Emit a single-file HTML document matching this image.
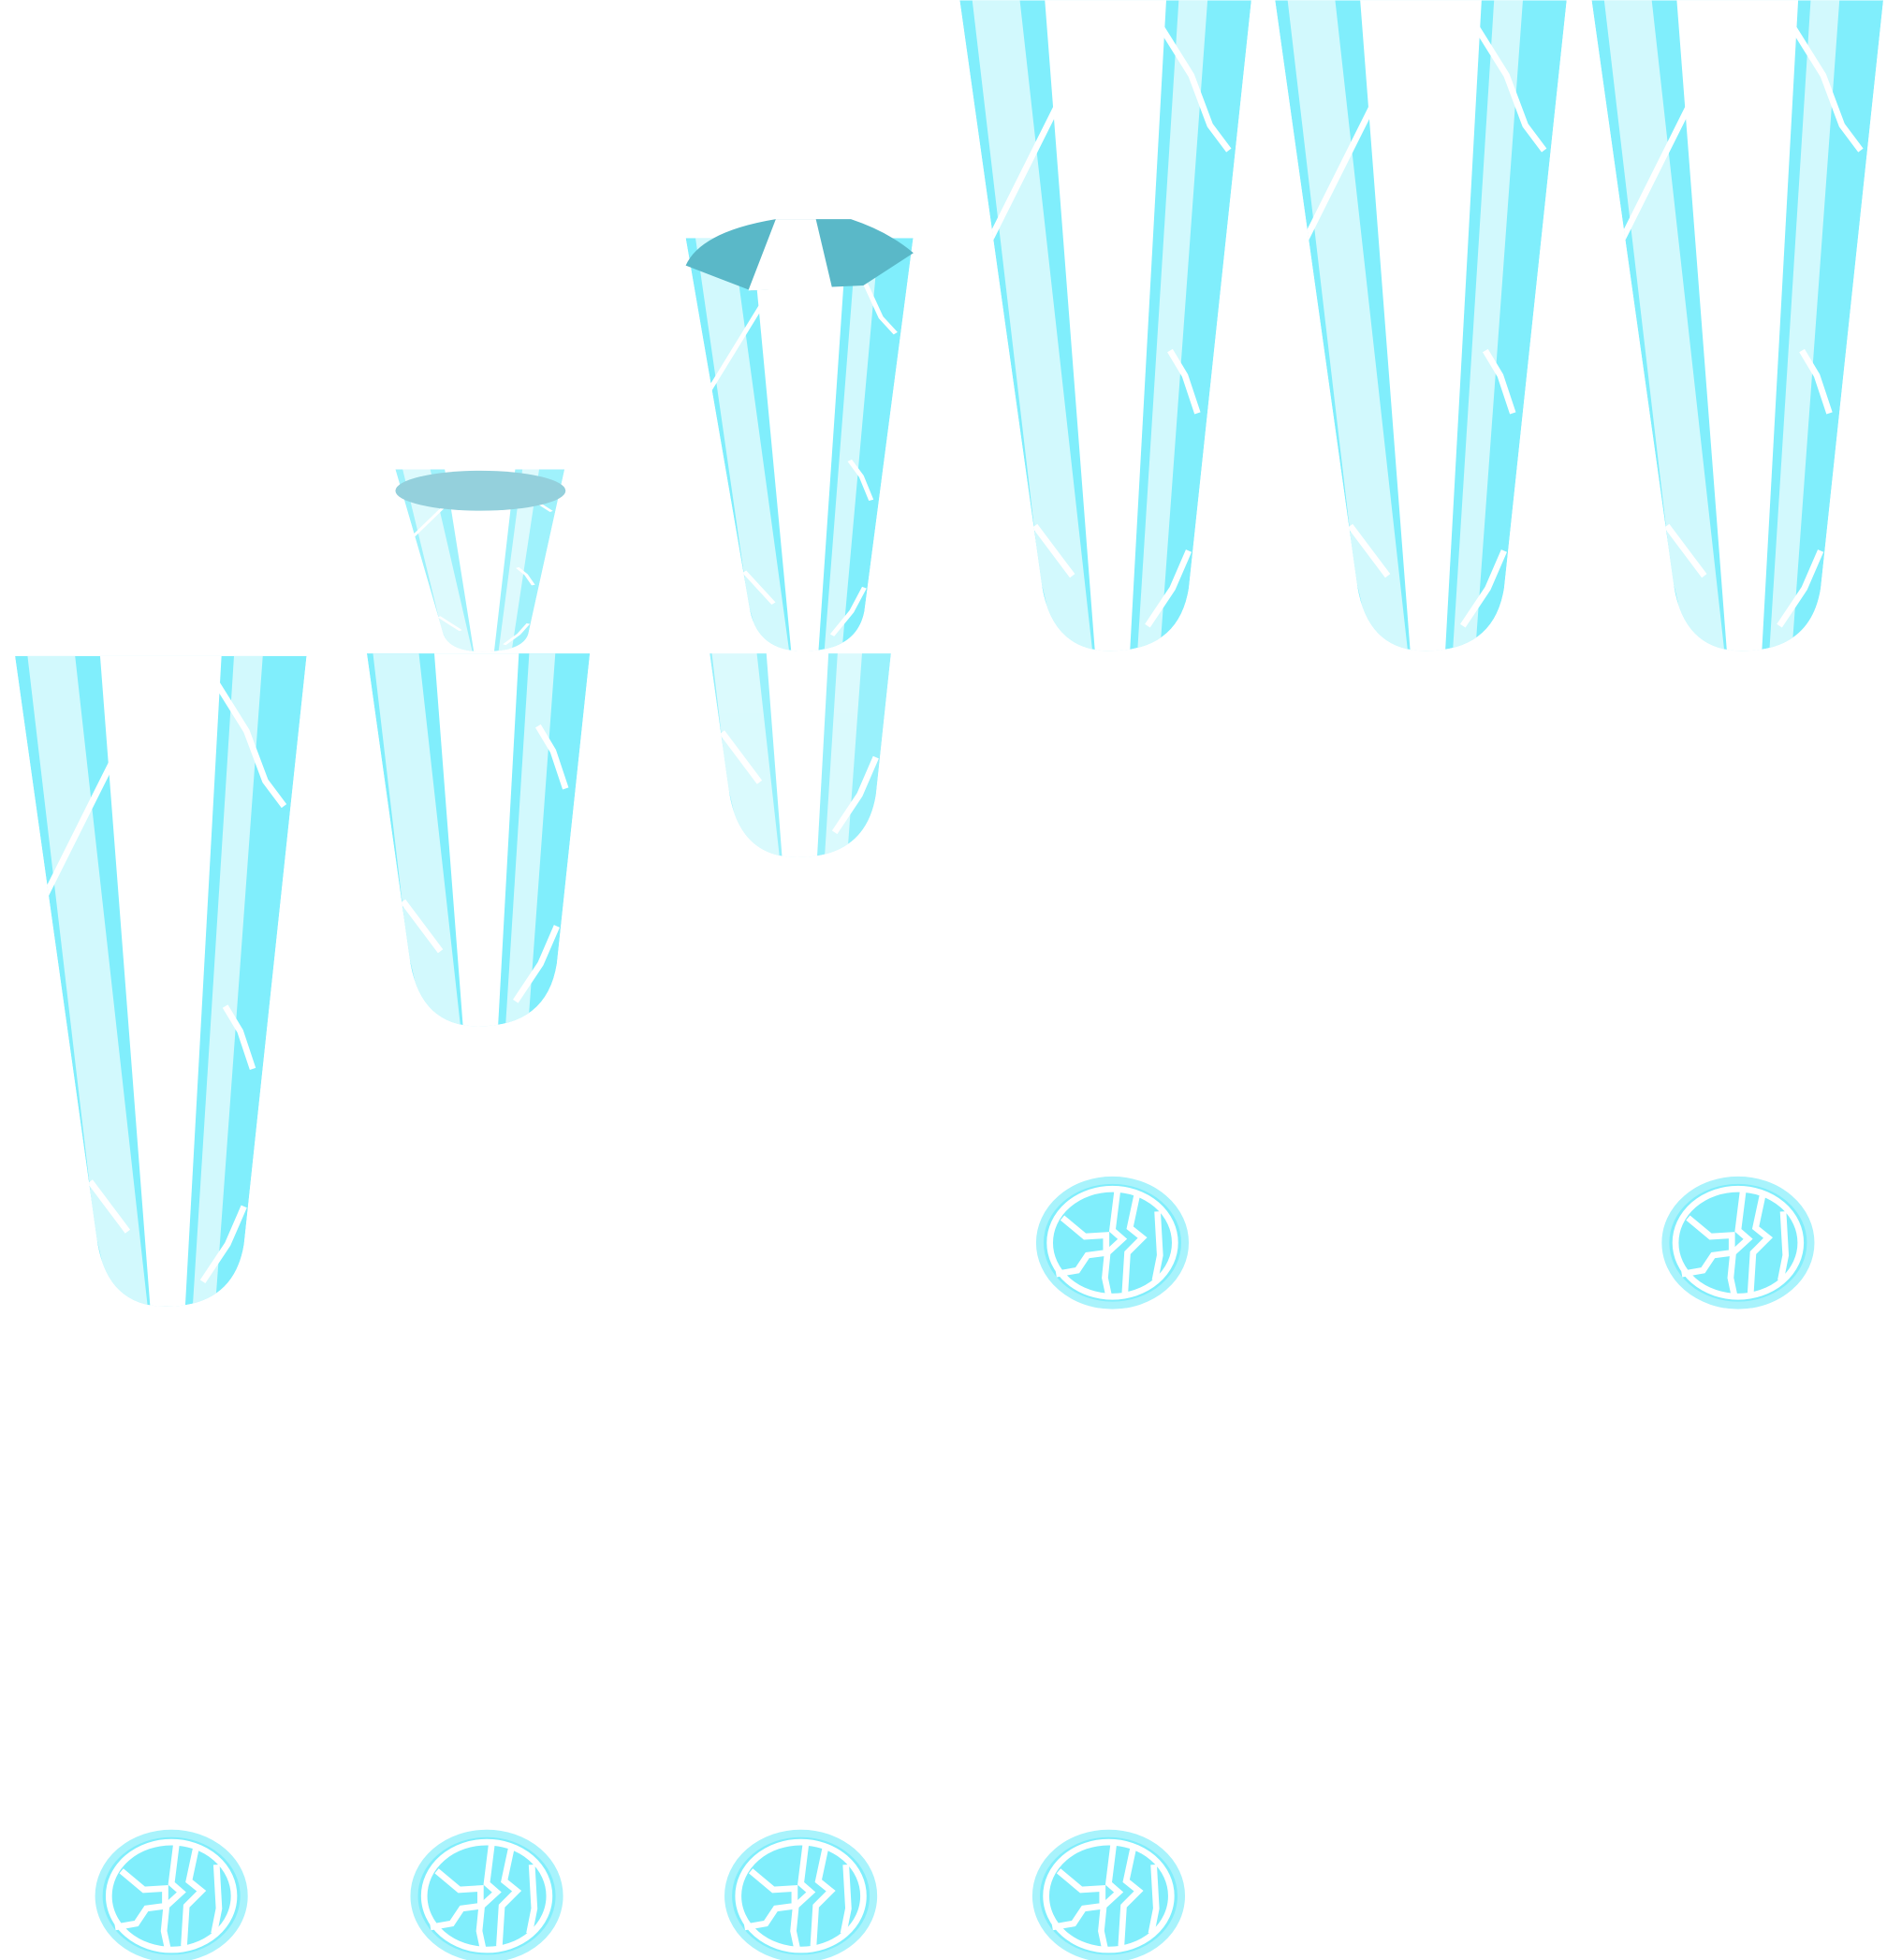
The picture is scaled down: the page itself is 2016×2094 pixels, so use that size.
<!DOCTYPE html>
<html><head><meta charset="utf-8"><style>html,body{margin:0;padding:0;background:#fff}svg{display:block}</style></head>
<body>
<svg width="2016" height="2094" viewBox="0 0 1508 1566" xmlns="http://www.w3.org/2000/svg">
<defs>
<clipPath id="cshape"><path d="M0,0 L66,470 Q75,520 120,520 Q175,520 183,470 L233,0 Z"/></clipPath>
<g id="crystal">
 <g clip-path="url(#cshape)">
  <path d="M0,0 L66,470 Q75,520 120,520 Q175,520 183,470 L233,0 Z" fill="#80eefc"/>
  <polygon points="10,0 48,0 106,520 88,520 78,520 64,460" fill="#d2f9fd"/>
  <polygon points="68,0 165,0 136,520 108,520" fill="#ffffff"/>
  <polygon points="175,0 198,0 160,520 142,520" fill="#d2f9fd"/>
  <polyline points="20,200 40,160 60,120 80,80 90,40" fill="none" stroke="#fff" stroke-width="5"/>
  <polyline points="160,20 185,60 200,100 215,120" fill="none" stroke="#fff" stroke-width="5"/>
  <polyline points="168,280 180,300 190,330" fill="none" stroke="#fff" stroke-width="5"/>
  <polyline points="60,420 75,440 90,460" fill="none" stroke="#fff" stroke-width="5"/>
  <polyline points="150,500 170,470 183,440" fill="none" stroke="#fff" stroke-width="5"/>
 </g>
</g>
<g id="orb">
  <ellipse cx="0" cy="0" rx="58" ry="50" fill="#80eefc" stroke="#a8f3fc" stroke-width="6"/>
  <ellipse cx="0" cy="0" rx="50" ry="43" fill="none" stroke="#fff" stroke-width="5"/>
  <polyline points="-40,-20 -22,-5 -5,-6 -5,8 -20,10 -28,22 -45,25" fill="none" stroke="#fff" stroke-width="5"/>
  <polyline points="4,-42 0,-10 8,-3 -4,8 -6,28 -3,42" fill="none" stroke="#fff" stroke-width="5"/>
  <polyline points="20,-40 14,-12 24,-4 12,8 10,40" fill="none" stroke="#fff" stroke-width="5"/>
  <polyline points="36,-25 38,10 34,30" fill="none" stroke="#fff" stroke-width="5"/>
</g>
<clipPath id="row2"><rect x="0" y="522" width="1508" height="522"/></clipPath>
</defs>
<g transform="translate(316,375) scale(0.58,0.28)" opacity="0.75">
  <use href="#crystal"/>
</g>
<ellipse cx="384" cy="392" rx="68" ry="16" fill="#94d0dc"/>
<g transform="translate(548,190) scale(0.78,0.635)"><use href="#crystal"/></g>
<path d="M548,212 Q560,185 620,175 L680,175 Q710,185 730,202 L690,228 L600,232 Z" fill="#5ab8c8"/>
<polygon points="620,175 652,175 665,230 598,232" fill="#fff"/>
<g transform="translate(767,0)"><use href="#crystal"/></g>
<g transform="translate(1019,0)"><use href="#crystal"/></g>
<g transform="translate(1272,0)"><use href="#crystal"/></g>
<g transform="translate(12,524)"><use href="#crystal"/></g>
<g clip-path="url(#row2)">
  <g transform="translate(262,300)"><use href="#crystal"/></g>
  <g transform="translate(517,165)" opacity="0.8"><use href="#crystal"/></g>
</g>
<g transform="translate(889,993)"><use href="#orb"/></g>
<g transform="translate(1389,993)"><use href="#orb"/></g>
<g transform="translate(137,1515)"><use href="#orb"/></g>
<g transform="translate(389,1515)"><use href="#orb"/></g>
<g transform="translate(640,1515)"><use href="#orb"/></g>
<g transform="translate(886,1515)"><use href="#orb"/></g>
</svg>
</body></html>
